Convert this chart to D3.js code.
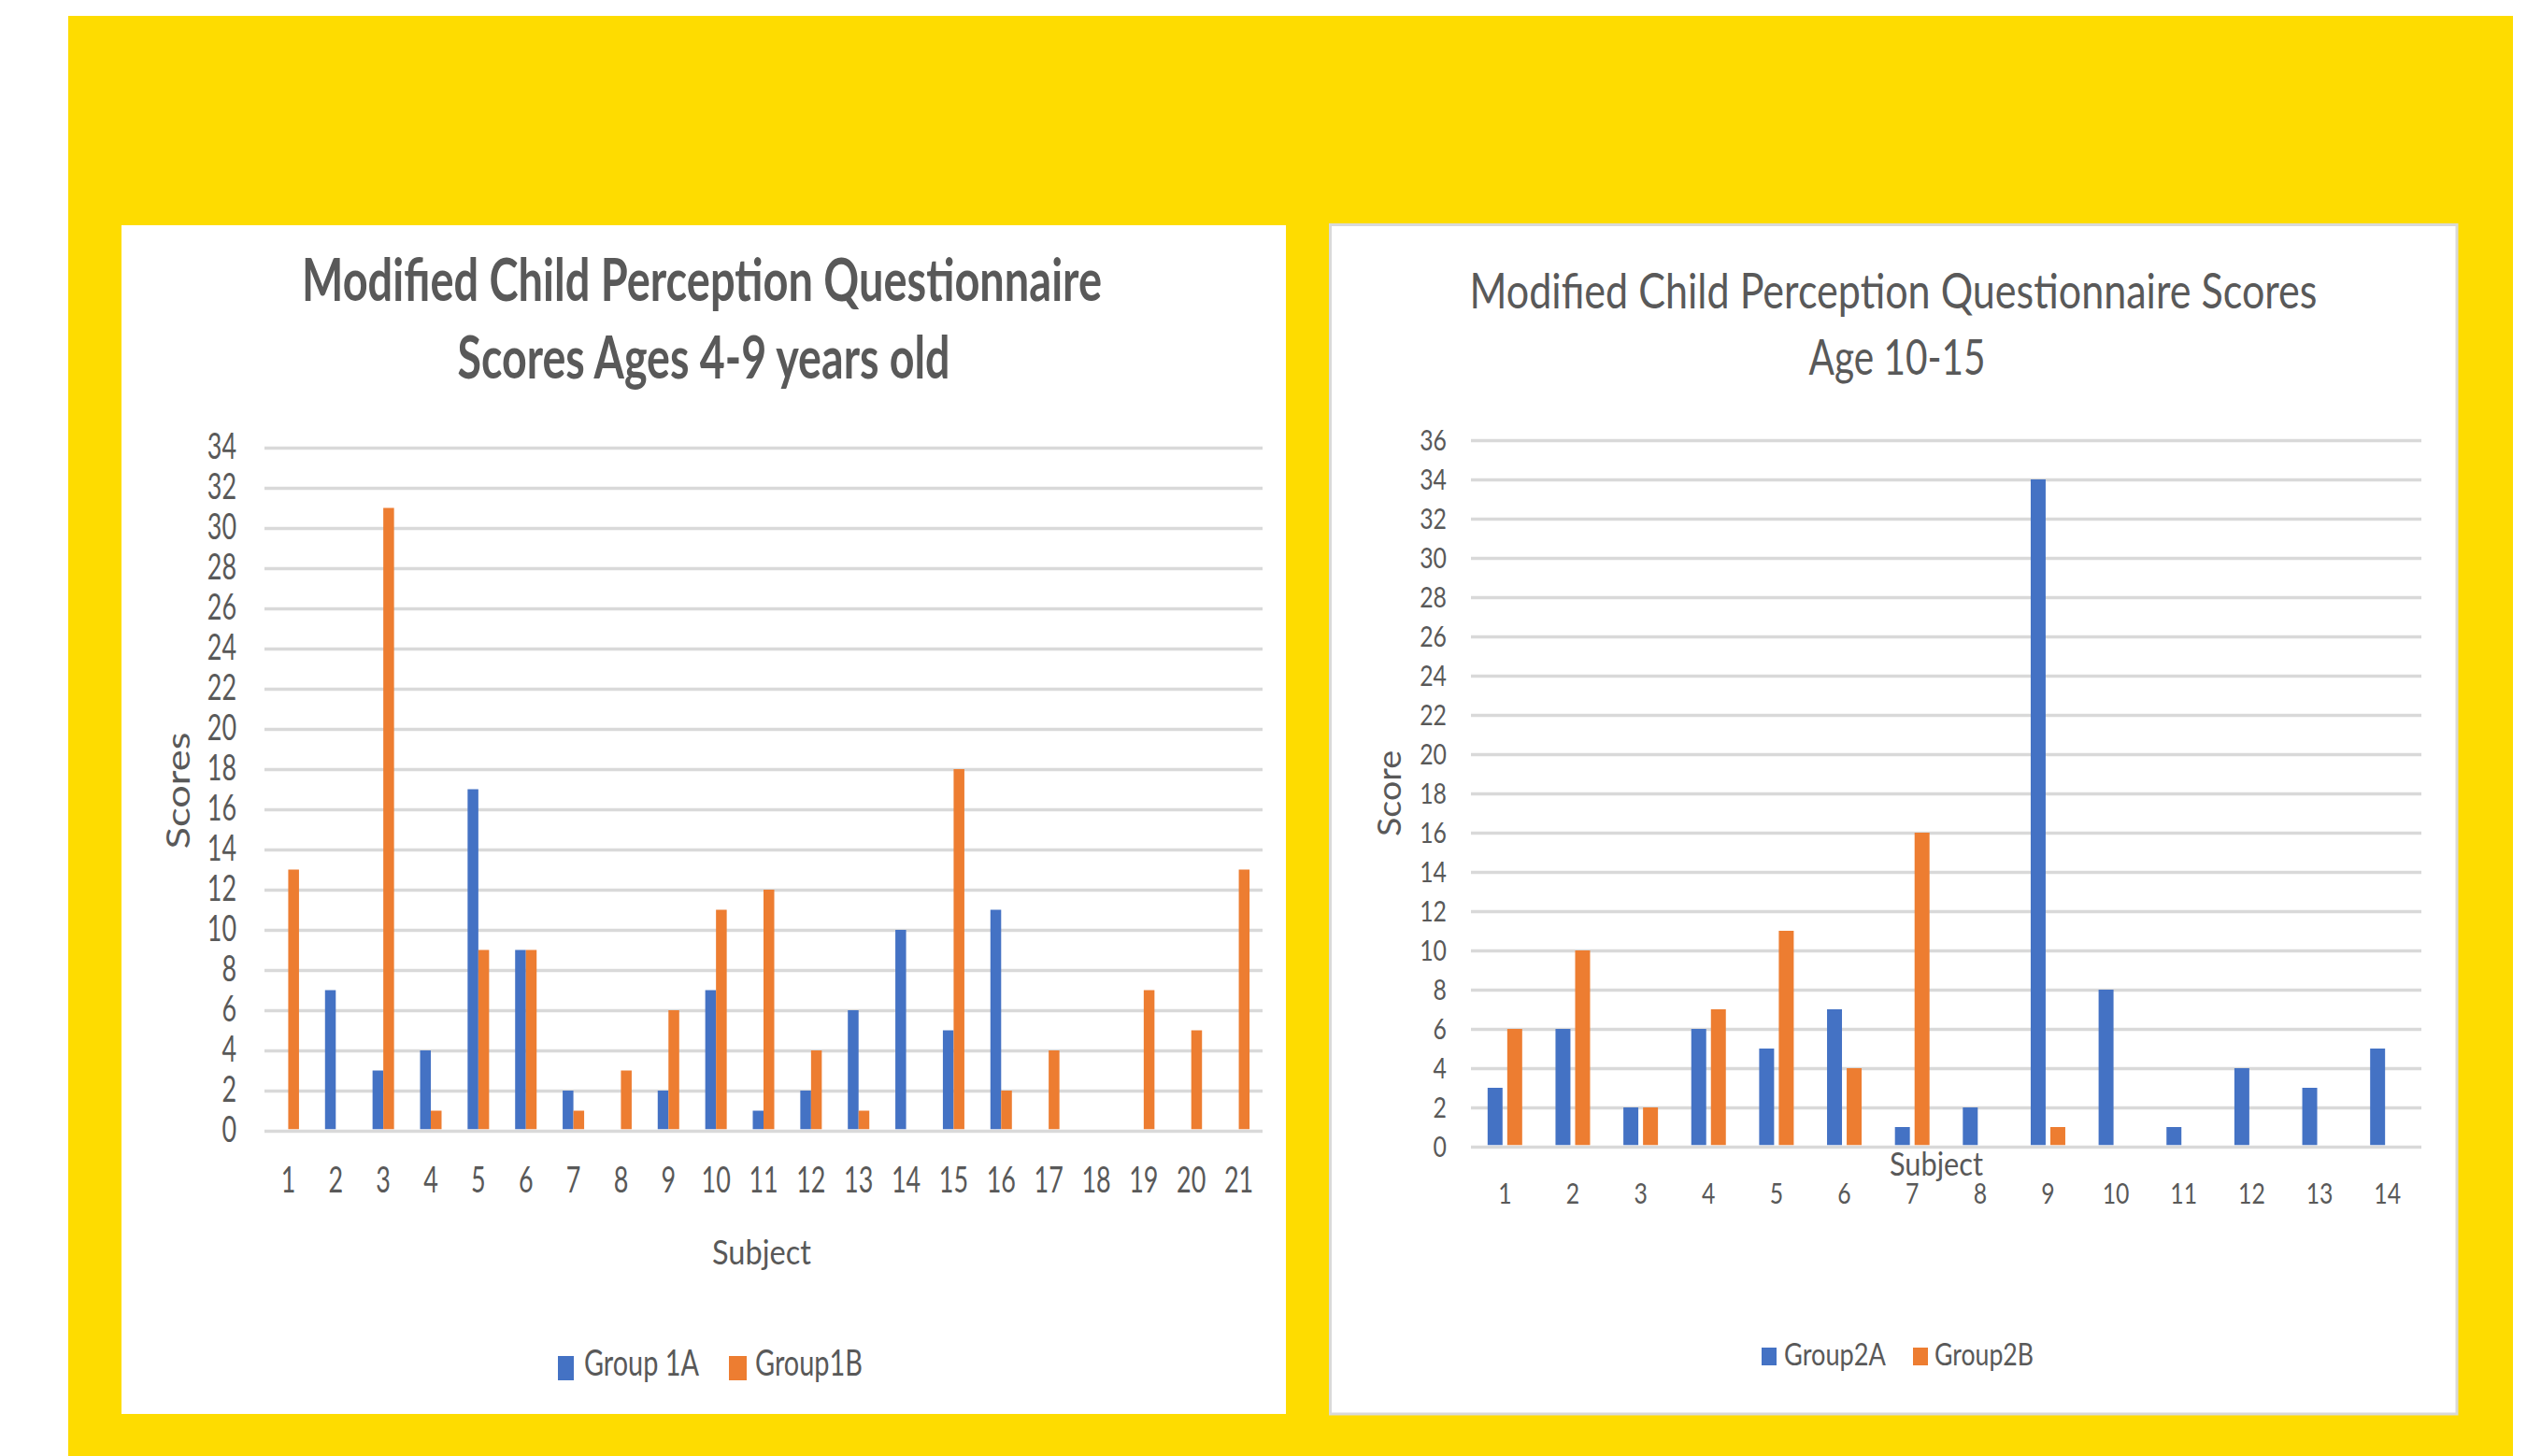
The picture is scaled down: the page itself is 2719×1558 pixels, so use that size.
<!DOCTYPE html>
<html><head><meta charset="utf-8">
<script src="https://cdn.jsdelivr.net/npm/d3@7"></script>
<style>
html,body{margin:0;padding:0;background:#fff;}
svg{display:block;}
text{font-family:Lato,"Open Sans",sans-serif;fill:#595959;}
</style>
</head><body>
<svg id="c" width="2719" height="1558"></svg>
<script>
// ---------- data ----------
const subjects1 = ["1","2","3","4","5","6","7","8","9","10","11","12","13","14","15","16","17","18","19","20","21"];
const group1A = [0,7,3,4,17,9,2,0,2,7,1,2,6,10,5,11,0,0,0,0,0];
const group1B = [13,0,31,1,9,9,1,3,6,11,12,4,1,0,18,2,4,0,7,5,13];
const series1 = ["Group 1A","Group1B"];
const yTicks1 = [0,2,4,6,8,10,12,14,16,18,20,22,24,26,28,30,32,34];

const subjects2 = ["1","2","3","4","5","6","7","8","9","10","11","12","13","14"];
const group2A = [3,6,2,6,5,7,1,2,34,8,1,4,3,5];
const group2B = [6,10,2,7,11,4,16,0,1,0,0,0,0,0];
const series2 = ["Group2A","Group2B"];
const yTicks2 = [0,2,4,6,8,10,12,14,16,18,20,22,24,26,28,30,32,34,36];

const colors = ["#4472C4","#ED7D31"];

// ---------- helpers ----------
const svg = d3.select("#c");
function squeeze(sel, sx){
  sel.each(function(){
    const w = this.getComputedTextLength();
    d3.select(this).attr("textLength", w*sx).attr("lengthAdjust","spacingAndGlyphs");
  });
}
function fitTo(sel, width){ sel.attr("textLength", width).attr("lengthAdjust","spacingAndGlyphs"); }

// background
svg.append("rect").attr("x",73).attr("y",17).attr("width",2689-73).attr("height",1558-17).attr("fill","#FEDC00");

// panels
svg.append("rect").attr("x",130).attr("y",241).attr("width",1376-130).attr("height",1513-241).attr("fill","#fff");
svg.append("rect").attr("x",1423.5).attr("y",240.5).attr("width",2629-1423.5).attr("height",1513-240.5)
  .attr("fill","#fff").attr("stroke","#d9d9d9").attr("stroke-width",3);

function drawChart(cfg){
  const g = svg.append("g");
  const x0 = d3.scaleBand().domain(cfg.cats).range([cfg.x0, cfg.x1]);
  const x1 = d3.scaleBand().domain(cfg.series).range([-cfg.cluster/2, cfg.cluster/2]).paddingInner(cfg.pad);
  const y = d3.scaleLinear().domain([0, cfg.ymax]).range([cfg.y0, cfg.ytop]);

  // y axis with gridlines
  const ya = g.append("g").attr("transform",`translate(${cfg.x0},0)`)
    .call(d3.axisLeft(y).tickValues(cfg.yTicks).tickSize(-(cfg.x1-cfg.x0)).tickPadding(cfg.yPad));
  ya.select(".domain").remove();
  ya.selectAll("line").attr("stroke","#d9d9d9").attr("stroke-width",cfg.gridW);
  ya.selectAll("text").attr("font-size",cfg.tickFont).attr("fill","#595959").attr("font-family","Lato")
    .attr("dy",cfg.yDy).call(squeeze, cfg.sx);

  // x axis labels
  const xa = g.append("g").attr("transform",`translate(0,${cfg.y0})`)
    .call(d3.axisBottom(x0).tickSize(0));
  xa.select(".domain").remove();
  xa.selectAll("text").attr("font-size",cfg.tickFont).attr("fill","#595959").attr("font-family","Lato")
    .attr("y",cfg.xLabY).attr("dy",0).call(squeeze, cfg.sx);

  // bars
  const rows = cfg.cats.map((c,i)=>({c, vals: cfg.series.map((s,j)=>({s, j, v: cfg.data[j][i]}))}));
  g.selectAll("g.cl").data(rows).join("g").attr("class","cl")
    .attr("transform",d=>`translate(${x0(d.c)+x0.bandwidth()/2},0)`)
    .selectAll("rect").data(d=>d.vals.filter(e=>e.v>0)).join("rect")
    .attr("x",d=>x1(d.s)).attr("width",x1.bandwidth())
    .attr("y",d=>y(d.v)).attr("height",d=>y(0)-y(d.v)-cfg.gridW/2)
    .attr("fill",d=>colors[d.j]);

  // titles
  cfg.title.forEach(t=>{
    g.append("text").attr("x",t.x).attr("y",t.y).attr("text-anchor","middle")
      .attr("font-size",t.size).attr("font-weight",t.weight).attr("fill","#595959")
      .text(t.text).call(fitTo,t.w);
  });
  // x axis title
  g.append("text").attr("x",cfg.xt.x).attr("y",cfg.xt.y).attr("text-anchor","middle")
    .attr("font-size",cfg.xt.size).text(cfg.xt.text).call(fitTo,cfg.xt.w);
  // y axis title
  g.append("text").attr("transform",`translate(${cfg.yt.x},${cfg.yt.y}) rotate(-90)`).attr("text-anchor","middle")
    .attr("font-size",cfg.yt.size).text(cfg.yt.text).call(fitTo,cfg.yt.w);
  // legend
  cfg.series.forEach((s,j)=>{
    const L = cfg.legend[j];
    g.append("rect").attr("x",L.rx).attr("y",L.ry).attr("width",L.rw).attr("height",L.rh).attr("fill",colors[j]);
    g.append("text").attr("x",L.tx).attr("y",L.ty).attr("font-size",cfg.legendFont).text(s).call(fitTo,L.tw);
  });
}

drawChart({
  cats: subjects1, series: series1, data:[group1A, group1B], yTicks: yTicks1, ymax:34,
  x0:283, x1:1351, y0:1210, ytop:479, cluster:23, pad:0, gridW:3.5,
  tickFont:39, sx:0.69, yPad:30, yDy:"0.3em", xLabY:66,
  title:[
    {text:"Modified Child Perception Questionnaire", x:751, y:322, size:63, weight:700, w:856},
    {text:"Scores Ages 4-9 years old", x:753, y:405, size:63, weight:700, w:527}
  ],
  xt:{text:"Subject", x:815, y:1353, size:37, w:106},
  yt:{text:"Scores", x:203, y:846, size:35, w:125},
  legendFont:39,
  legend:[
    {rx:597, ry:1451, rw:17, rh:26, tx:625, ty:1472, tw:123},
    {rx:780, ry:1451, rw:19, rh:26, tx:808, ty:1472, tw:115}
  ]
});

drawChart({
  cats: subjects2, series: series2, data:[group2A, group2B], yTicks: yTicks2, ymax:36,
  x0:1574, x1:2591, y0:1227, ytop:471, cluster:37, pad:0.24, gridW:3.5,
  tickFont:31, sx:0.8, yPad:26, yDy:"0.34em", xLabY:61,
  title:[
    {text:"Modified Child Perception Questionnaire Scores", x:2026, y:330, size:52, weight:400, w:907},
    {text:"Age 10-15", x:2030, y:401, size:52, weight:400, w:189}
  ],
  xt:{text:"Subject", x:2072, y:1258, size:35, w:100},
  yt:{text:"Score", x:1499, y:849, size:34, w:92},
  legendFont:32,
  legend:[
    {rx:1885, ry:1442, rw:16, rh:19, tx:1909, ty:1461, tw:109},
    {rx:2047, ry:1442, rw:16, rh:19, tx:2070, ty:1461, tw:106}
  ]
});
</script>
</body></html>
